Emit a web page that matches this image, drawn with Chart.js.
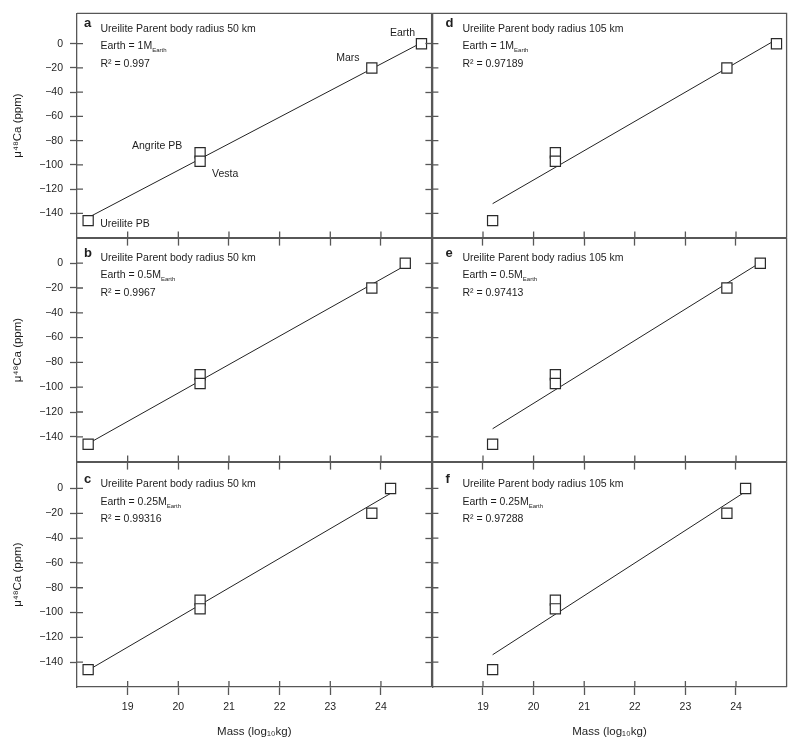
<!DOCTYPE html>
<html>
<head>
<meta charset="utf-8">
<script src="https://cdn.jsdelivr.net/npm/chart.js@4/dist/chart.umd.min.js"></script>
<style>
  body { margin: 0; background: #fff; width: 800px; height: 752px; position: relative; overflow: hidden; }
  canvas { position: absolute; }
</style>
</head>
<body>
<script>
// panel texts
const panelLetters = ['a', 'b', 'c', 'd', 'e', 'f'];
const radiusKm = [50, 50, 50, 105, 105, 105];
const earthFraction = ['1', '0.5', '0.25', '1', '0.5', '0.25'];
const rSquared = ['0.997', '0.9967', '0.99316', '0.97189', '0.97413', '0.97288'];

// bodies (same order in every panel)
const bodyNames = ['Ureilite PB', 'Angrite PB', 'Vesta', 'Mars', 'Earth'];
const ca48 = [-146, -90, -97, -20, 0];
const ureiliteMass = [18.22, 18.22, 18.22, 19.19, 19.19, 19.19];
const angriteMass = 20.43;
const vestaMass = 20.43;
const marsMass = 23.82;
const earthMass = [24.8, 24.48, 24.19, 24.8, 24.48, 24.19];

// fitted line ends
const fitStart = [-143.5, -145.5, -146.5, -132, -133.5, -134];
const fitEnd = [0.8, -1.9, -4, 3.5, 0.5, -2.5];

// axes
const xTicks = [19, 20, 21, 22, 23, 24];
const yTicks = [0, -20, -40, -60, -80, -100, -120, -140];
const yMin = [-160, -160, -160, -160, -160, -160];
const yMax = [25, 20, 21, 25, 20, 21];

const axisColor = '#575757';
const inkColor = '#1e1e1e';
const fontFamily = "'Liberation Sans', Arial, sans-serif";

// layout of the 3x2 grid
const colLeft = [77, 432];
const colRight = [432, 787];
const rowTop = [13, 238, 462];
const rowBottom = [238, 462, 687];
const letterBase = [14, 18.5, 20.7];
const textBase = [18.5, 22.5, 25];
const letterDx = [7, 13];
const textDx = [23.5, 30];

// body label offsets (panel a only)
const labelDx = [12, -43, 25, -24, -19];
const labelDy = [6, -4, 16, -7, -8];
const labelAlign = ['left', 'center', 'center', 'center', 'center'];

const panelDecor = {
  id: 'panelDecor',
  beforeDatasetsDraw(chart) {
    const { ctx, chartArea: a, scales } = chart;
    ctx.save();
    ctx.strokeStyle = axisColor;
    ctx.lineWidth = 1.3;
    ctx.beginPath();
    ctx.moveTo(a.left, a.top);
    ctx.lineTo(a.right, a.top);
    ctx.lineTo(a.right, a.bottom);
    // inner half of the ticks
    scales.x.ticks.forEach(t => {
      const px = scales.x.getPixelForValue(t.value);
      ctx.moveTo(px, a.bottom);
      ctx.lineTo(px, a.bottom - 6);
    });
    scales.y.ticks.forEach(t => {
      const py = scales.y.getPixelForValue(t.value);
      ctx.moveTo(a.left, py);
      ctx.lineTo(a.left + 6, py);
    });
    ctx.stroke();
    ctx.restore();
  },
  afterDraw(chart, args, opts) {
    const { ctx, chartArea: a } = chart;
    const i = opts.panel;
    const col = Math.floor(i / 3);
    const row = i % 3;
    ctx.save();
    ctx.fillStyle = inkColor;
    ctx.textBaseline = 'alphabetic';
    ctx.font = `bold 13px ${fontFamily}`;
    ctx.fillText(panelLetters[i], a.left + letterDx[col], a.top + letterBase[row]);

    const tx = a.left + textDx[col];
    const ty = a.top + textBase[row];
    ctx.font = `10.5px ${fontFamily}`;
    ctx.fillText(`Ureilite Parent body radius ${radiusKm[i]} km`, tx, ty);
    const eq = `Earth = ${earthFraction[i]}M`;
    ctx.fillText(eq, tx, ty + 17.5);
    const w = ctx.measureText(eq).width;
    ctx.fillText(`R² = ${rSquared[i]}`, tx, ty + 35);
    ctx.font = `6px ${fontFamily}`;
    ctx.fillText('Earth', tx + w, ty + 17.5 + 3);

    if (i === 0) {
      ctx.font = `10.5px ${fontFamily}`;
      chart.getDatasetMeta(0).data.forEach((pt, k) => {
        ctx.textAlign = labelAlign[k];
        ctx.fillText(bodyNames[k], pt.x + labelDx[k], pt.y + labelDy[k]);
      });
    }
    ctx.restore();
  }
};

for (let i = 0; i < 6; i++) {
  const col = Math.floor(i / 3);
  const row = i % 3;
  const bottomRow = row === 2;
  const leftCol = col === 0;
  const yAxisW = leftCol ? colLeft[0] : 8;
  const xAxisH = bottomRow ? 65 : 8;

  const canvas = document.createElement('canvas');
  const left = colLeft[col] - yAxisW;
  const top = rowTop[row] - 8;
  canvas.width = colRight[col] + 8 - left;
  canvas.height = rowBottom[row] + xAxisH - top;
  canvas.style.left = left + 'px';
  canvas.style.top = top + 'px';
  document.body.appendChild(canvas);

  const points = ca48.map((y, k) => ({
    x: [ureiliteMass[i], angriteMass, vestaMass, marsMass, earthMass[i]][k],
    y
  }));

  new Chart(canvas, {
    type: 'scatter',
    data: {
      datasets: [
        {
          data: points,
          pointStyle: 'rect',
          pointRadius: 7.2,
          pointHoverRadius: 7.2,
          pointBackgroundColor: '#ffffff',
          pointBorderColor: '#2a2a2a',
          pointBorderWidth: 1.2,
          order: 1
        },
        {
          type: 'line',
          data: [
            { x: ureiliteMass[i], y: fitStart[i] },
            { x: earthMass[i], y: fitEnd[i] }
          ],
          borderColor: '#222222',
          borderWidth: 1,
          pointRadius: 0,
          fill: false,
          order: 2
        }
      ]
    },
    options: {
      responsive: false,
      animation: false,
      events: [],
      layout: { padding: { top: 8, right: 8, left: 0, bottom: 0 } },
      plugins: {
        legend: { display: false },
        tooltip: { enabled: false },
        panelDecor: { panel: i }
      },
      scales: {
        x: {
          type: 'linear',
          min: 18,
          max: 25,
          afterBuildTicks: s => { s.ticks = xTicks.map(v => ({ value: v })); },
          afterFit: s => {
            s.height = xAxisH;
            s.paddingLeft = 0;
            s.paddingRight = 0;
          },
          grid: { drawOnChartArea: false, tickLength: 8, tickColor: axisColor, tickWidth: 1.3 },
          border: { color: axisColor, width: 1.3 },
          ticks: {
            display: bottomRow,
            color: inkColor,
            padding: 6,
            maxRotation: 0,
            font: { family: fontFamily, size: 10.5 }
          },
          title: {
            display: bottomRow,
            text: 'Mass (log₁₀kg)',
            color: inkColor,
            font: { family: fontFamily, size: 11.5 },
            padding: { top: 0, bottom: 13 }
          }
        },
        y: {
          type: 'linear',
          min: yMin[i],
          max: yMax[i],
          afterBuildTicks: s => { s.ticks = yTicks.map(v => ({ value: v })); },
          afterFit: s => {
            s.width = yAxisW;
            s.paddingTop = 0;
            s.paddingBottom = 0;
          },
          grid: { drawOnChartArea: false, tickLength: 7, tickColor: axisColor, tickWidth: 1.3 },
          border: { color: axisColor, width: 1.3 },
          ticks: {
            display: leftCol,
            color: inkColor,
            padding: 7,
            font: { family: fontFamily, size: 10.5 },
            callback: v => (v < 0 ? '\u2212' + Math.abs(v) : String(v))
          },
          title: {
            display: leftCol,
            text: 'μ⁴⁸Ca (ppm)',
            color: inkColor,
            font: { family: fontFamily, size: 11.5 },
            padding: { top: 11, bottom: 0 }
          }
        }
      }
    },
    plugins: [panelDecor]
  });
}
</script>
</body>
</html>
